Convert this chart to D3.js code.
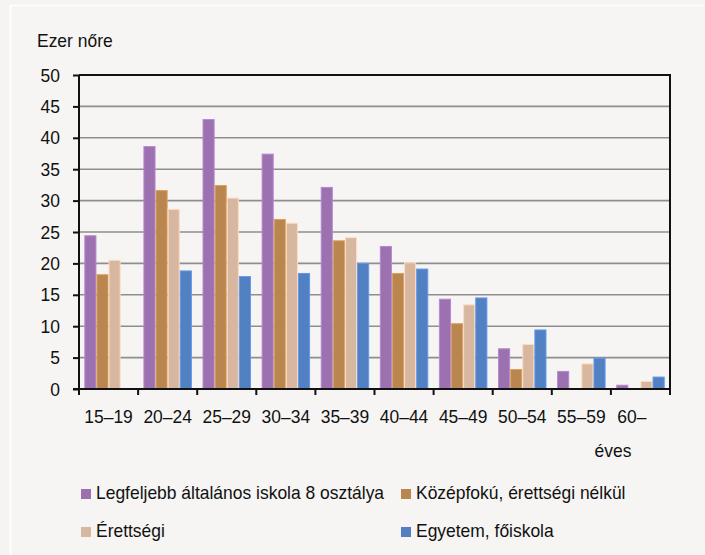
<!DOCTYPE html>
<html>
<head>
<meta charset="utf-8">
<script src="https://cdn.jsdelivr.net/npm/d3@7"></script>
<style>
  body { margin: 0; background: #f5f4f2; }
  svg { display: block; font-family: "Liberation Sans", Arial, sans-serif; }
</style>
</head>
<body>
<div id="chart"></div>
<script>
// age groups
const categories = ["15–19", "20–24", "25–29", "30–34", "35–39", "40–44", "45–49", "50–54", "55–59", "60–"];
const series = ["Legfeljebb általános iskola 8 osztálya", "Középfokú, érettségi nélkül", "Érettségi", "Egyetem, főiskola"];
const colors = ["#9b71b0", "#b9864f", "#d8b7a1", "#5180c3"];

// thousand women per group
const elementary = [24.4, 38.6, 42.9, 37.4, 32.1, 22.7, 14.3, 6.4, 2.8, 0.6];
const vocational = [18.2, 31.6, 32.4, 27.0, 23.6, 18.4, 10.4, 3.1, 0, 0];
const secondary  = [20.5, 28.6, 30.4, 26.4, 24.1, 20.1, 13.4, 7.1, 4.0, 1.2];
const university = [0, 18.8, 17.9, 18.4, 20.0, 19.1, 14.5, 9.4, 4.9, 1.9];
const values = [elementary, vocational, secondary, university];

const yTicks = d3.range(0, 51, 5);

const width = 705, height = 555;
const plotLeft = 79, plotRight = 670, plotTop = 75, plotBottom = 389;
const sx = 0.97; // glyphs in the source are a little narrow

const svg = d3.select("#chart").append("svg")
    .attr("width", width)
    .attr("height", height);

// frame
svg.append("rect")
    .attr("x", 10.5).attr("y", 5.5)
    .attr("width", 705).attr("height", 560)
    .attr("fill", "#f6f5f3")
    .attr("stroke", "#ffffff")
    .attr("stroke-width", 1.5);

const x0 = d3.scaleBand(categories, [plotLeft, plotRight]).paddingInner(0.18).paddingOuter(0.09);
const x1 = d3.scaleBand(d3.range(series.length), [0, x0.bandwidth()]);
const y = d3.scaleLinear([0, 50], [plotBottom, plotTop]);

function label(x, yy, txt, anchor, size) {
  svg.append("text")
      .attr("transform", `translate(${x},${yy}) scale(${sx},1)`)
      .attr("text-anchor", anchor || "start")
      .attr("font-size", size || 18)
      .attr("fill", "#111")
      .text(txt);
}

// gridlines
svg.append("g")
  .selectAll("line")
  .data(yTicks.filter(t => t > 0 && t < 50))
  .join("line")
    .attr("x1", plotLeft).attr("x2", plotRight)
    .attr("y1", d => y(d)).attr("y2", d => y(d))
    .attr("stroke", "#8e8e8e")
    .attr("stroke-width", 1.6);

// top and right frame of plot
svg.append("path")
    .attr("d", `M${plotLeft},${y(50)}H${plotRight}V${plotBottom}`)
    .attr("fill", "none")
    .attr("stroke", "#111")
    .attr("stroke-width", 2);

// bars
const groups = svg.append("g")
  .selectAll("g")
  .data(categories)
  .join("g")
    .attr("transform", d => `translate(${x0(d)},0)`);

groups.selectAll("rect")
  .data((d, i) => values.map((v, s) => ({s, v: v[i]})).filter(e => e.v > 0))
  .join("rect")
    .attr("x", d => x1(d.s) + 0.5)
    .attr("y", d => y(d.v))
    .attr("width", x1.bandwidth() - 1)
    .attr("height", d => y(0) - y(d.v))
    .attr("fill", d => colors[d.s])
    .attr("stroke", d => d3.color(colors[d.s]).brighter(0.5))
    .attr("stroke-width", 1);

// y axis
const yAxis = d3.axisLeft(y).tickValues(yTicks).tickSize(6).tickFormat("");
svg.append("g")
    .attr("transform", `translate(${plotLeft},0)`)
    .call(yAxis)
    .call(g => g.select(".domain").attr("stroke", "#111").attr("stroke-width", 2).attr("d", `M0,${plotTop}V${plotBottom + 6}`))
    .call(g => g.selectAll(".tick line").attr("stroke", "#111").attr("stroke-width", 2));

yTicks.forEach(t => label(60, y(t) + 6.5, t, "end"));

// x axis: ticks on the category boundaries
const bounds = categories.map(c => x0(c) - x0.step() * x0.paddingInner() / 2).concat([plotRight]);
svg.append("line")
    .attr("x1", plotLeft - 6).attr("x2", plotRight + 1)
    .attr("y1", plotBottom).attr("y2", plotBottom)
    .attr("stroke", "#111").attr("stroke-width", 2);
svg.append("g")
  .selectAll("line")
  .data(bounds)
  .join("line")
    .attr("x1", d => d).attr("x2", d => d)
    .attr("y1", plotBottom).attr("y2", plotBottom + 6)
    .attr("stroke", "#111").attr("stroke-width", 2);

// last label sits left-aligned in its group, the rest are centred
categories.forEach((c, i) => {
  if (i === categories.length - 1) label(x0(c) + 1, 423, c, "start");
  else label(x0(c) + x0.bandwidth() / 2, 423, c, "middle");
});
label(613, 457, "éves", "middle");

// title
label(37, 47, "Ezer nőre", "start");

// legend
const legendPos = [[81, 499], [401, 499], [81, 537], [401, 537]];
series.forEach((s, i) => {
  const [lx, ly] = legendPos[i];
  svg.append("rect")
      .attr("x", lx).attr("y", ly - 10)
      .attr("width", 10).attr("height", 10)
      .attr("fill", colors[i]);
  label(lx + 15, ly, s, "start");
});
</script>
</body>
</html>
